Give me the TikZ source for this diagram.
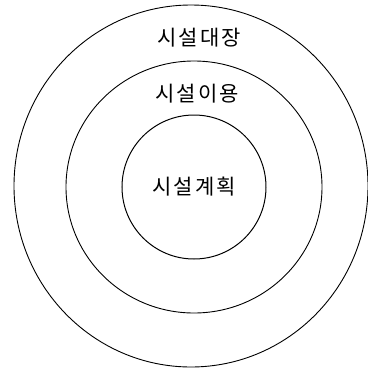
\documentclass[tikz,border=0pt]{standalone}
\usepackage{fontspec}
\newfontfamily\krfont[LetterSpace=10]{Noto Sans CJK KR}
\usepackage{tikz}
\usetikzlibrary{positioning}

\begin{document}
\begin{tikzpicture}[x=1pt,y=-1pt,every node/.style={font=\krfont\fontsize{21}{21}\selectfont}]
  \useasboundingbox (0,0) rectangle (368,368);
  % rings
  \draw[line width=0.9pt] (191,186) ellipse [x radius=177,y radius=181];
  \draw[line width=0.9pt] (194,187) ellipse [x radius=128,y radius=126];
  \draw[line width=1pt] (194,187) circle [radius=72];
  % labels
  \node (ledger) at (199,38) {시설대장};
  \node (usage) at (197,94) {시설이용};
  \node (plan) at (194,187) {시설계획};
\end{tikzpicture}
\end{document}
